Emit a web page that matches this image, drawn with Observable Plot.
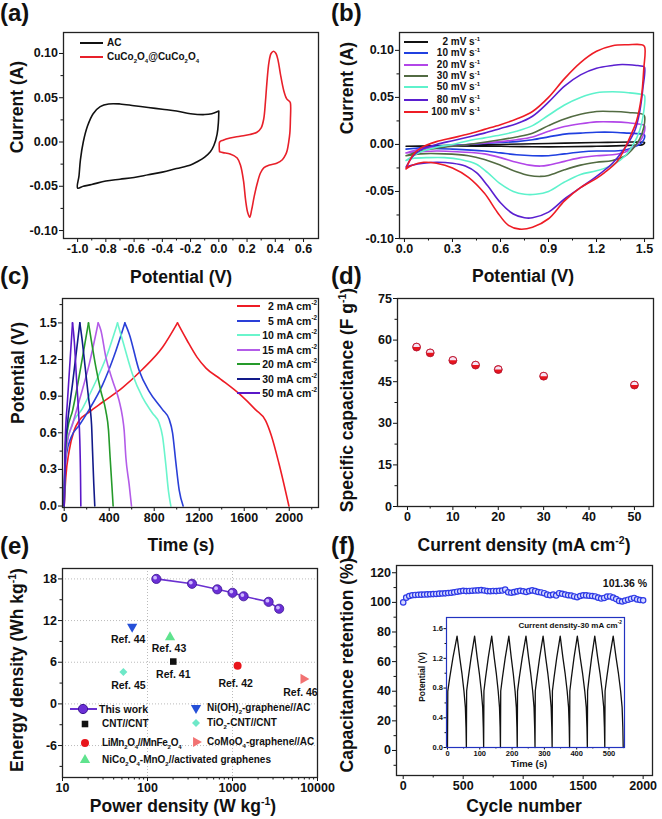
<!DOCTYPE html>
<html><head><meta charset="utf-8">
<script src="https://cdn.jsdelivr.net/npm/d3@7"></script>
<script src="https://cdn.jsdelivr.net/npm/@observablehq/plot@0.6"></script>
<style>
html,body{margin:0;padding:0;background:#fff;}
#fig{position:relative;width:662px;height:819px;overflow:hidden;font-family:"Liberation Sans",Arial,Helvetica,sans-serif;font-weight:bold;color:#111;background:#fff;}
.t{position:absolute;white-space:nowrap;line-height:1;}
sub,sup{font-size:0.6em;line-height:0;}
</style></head><body><div id="fig"></div><script>
// ================= DATA =================
// (a) CV comparison, [potential V, current A]
const acLoop = [[0.0,0.035],[-0.05,0.032],[-0.1,0.031],[-0.2,0.032],[-0.3,0.035],[-0.4,0.037],[-0.5,0.039],[-0.6,0.041],[-0.7,0.043],[-0.78,0.043],[-0.84,0.040],[-0.89,0.032],[-0.93,0.018],[-0.96,0.0],[-0.98,-0.02],[-0.99,-0.038],[-1.0,-0.052],[-0.96,-0.050],[-0.9,-0.048],[-0.8,-0.044],[-0.7,-0.042],[-0.6,-0.040],[-0.5,-0.037],[-0.4,-0.034],[-0.3,-0.030],[-0.2,-0.026],[-0.15,-0.022],[-0.1,-0.017],[-0.06,-0.011],[-0.035,-0.004],[-0.012,0.009],[-0.003,0.022],[0.0,0.035]];
const ccoLoop = [[0.005,-0.011],[0.003,-0.004],[0.006,0.0],[0.03,0.002],[0.08,0.0045],[0.15,0.0065],[0.22,0.0085],[0.27,0.011],[0.30,0.016],[0.318,0.026],[0.33,0.045],[0.34,0.066],[0.355,0.09],[0.37,0.100],[0.388,0.1026],[0.405,0.100],[0.42,0.092],[0.436,0.077],[0.46,0.058],[0.48,0.049],[0.50,0.046],[0.507,0.044],[0.507,0.025],[0.503,0.01],[0.495,0.0],[0.485,-0.009],[0.474,-0.014],[0.45,-0.020],[0.41,-0.024],[0.36,-0.026],[0.32,-0.029],[0.295,-0.035],[0.27,-0.048],[0.25,-0.062],[0.232,-0.077],[0.219,-0.085],[0.205,-0.080],[0.19,-0.066],[0.175,-0.044],[0.155,-0.027],[0.13,-0.018],[0.08,-0.0135],[0.03,-0.012],[0.005,-0.011]];
const aXTicks = [-1.0,-0.8,-0.6,-0.4,-0.2,0.0,0.2,0.4,0.6];
const aXMinor = [-0.9,-0.7,-0.5,-0.3,-0.1,0.1,0.3,0.5];
const currentTicks = [-0.10,-0.05,0.0,0.05,0.10];
const currentMinor = [-0.075,-0.025,0.025,0.075];

// (b) CV at scan rates, [potential V, current A]
const scanRates = ["2","10","20","30","50","80","100"];
const cv2 = [[0.01,-0.002],[0.3,-0.001],[0.6,0.0],[0.9,0.001],[1.2,0.002],[1.45,0.0025],[1.5,0.002],[1.49,0.0],[1.4,-0.001],[1.2,-0.002],[1.0,-0.0025],[0.8,-0.0025],[0.6,-0.002],[0.3,-0.0015],[0.01,-0.002]];
const cv10 = [[0.01,-0.005],[0.2,-0.002],[0.4,0.0],[0.6,0.002],[0.7,0.003],[0.8,0.005],[0.9,0.008],[1.0,0.011],[1.1,0.012],[1.2,0.013],[1.3,0.013],[1.4,0.012],[1.49,0.011],[1.5,0.010],[1.495,0.005],[1.47,0.0],[1.43,-0.003],[1.38,-0.006],[1.3,-0.007],[1.2,-0.007],[1.1,-0.008],[1.0,-0.010],[0.9,-0.012],[0.8,-0.012],[0.7,-0.011],[0.6,-0.009],[0.5,-0.007],[0.3,-0.005],[0.1,-0.004],[0.01,-0.005]];
const cv20 = [[0.01,-0.009],[0.1,-0.005],[0.2,-0.003],[0.4,0.0],[0.6,0.003],[0.7,0.005],[0.8,0.008],[0.9,0.014],[1.0,0.019],[1.1,0.022],[1.2,0.024],[1.3,0.024],[1.4,0.023],[1.49,0.021],[1.5,0.020],[1.495,0.011],[1.47,0.003],[1.43,-0.003],[1.38,-0.008],[1.3,-0.011],[1.2,-0.012],[1.1,-0.014],[1.0,-0.018],[0.9,-0.022],[0.85,-0.023],[0.78,-0.022],[0.7,-0.019],[0.6,-0.014],[0.5,-0.010],[0.35,-0.008],[0.2,-0.007],[0.01,-0.009]];
const cv30 = [[0.01,-0.012],[0.1,-0.007],[0.2,-0.004],[0.4,0.0],[0.6,0.005],[0.7,0.008],[0.8,0.012],[0.9,0.020],[1.0,0.027],[1.1,0.032],[1.2,0.035],[1.3,0.035],[1.4,0.034],[1.49,0.032],[1.5,0.030],[1.495,0.018],[1.47,0.006],[1.43,-0.004],[1.38,-0.012],[1.3,-0.017],[1.2,-0.019],[1.1,-0.022],[1.0,-0.027],[0.9,-0.033],[0.85,-0.034],[0.78,-0.033],[0.7,-0.029],[0.6,-0.022],[0.5,-0.016],[0.4,-0.012],[0.25,-0.010],[0.1,-0.010],[0.01,-0.012]];
const cv50 = [[0.01,-0.017],[0.1,-0.008],[0.2,-0.003],[0.3,0.0],[0.4,0.004],[0.5,0.007],[0.6,0.010],[0.7,0.014],[0.8,0.020],[0.9,0.031],[1.0,0.042],[1.1,0.050],[1.2,0.055],[1.3,0.056],[1.4,0.055],[1.49,0.053],[1.5,0.052],[1.495,0.035],[1.47,0.015],[1.43,0.0],[1.38,-0.012],[1.3,-0.022],[1.2,-0.028],[1.1,-0.032],[1.0,-0.040],[0.9,-0.050],[0.82,-0.053],[0.75,-0.053],[0.68,-0.050],[0.6,-0.042],[0.52,-0.030],[0.45,-0.021],[0.35,-0.016],[0.25,-0.014],[0.15,-0.014],[0.05,-0.015],[0.01,-0.017]];
const cv80 = [[0.01,-0.024],[0.05,-0.013],[0.1,-0.006],[0.2,0.0],[0.3,0.004],[0.4,0.008],[0.5,0.012],[0.6,0.017],[0.7,0.022],[0.8,0.030],[0.9,0.045],[1.0,0.062],[1.1,0.074],[1.2,0.081],[1.3,0.084],[1.36,0.085],[1.45,0.084],[1.49,0.083],[1.5,0.082],[1.49,0.06],[1.47,0.035],[1.44,0.015],[1.4,0.002],[1.35,-0.01],[1.3,-0.02],[1.2,-0.034],[1.1,-0.046],[1.0,-0.058],[0.9,-0.072],[0.8,-0.078],[0.75,-0.078],[0.68,-0.074],[0.6,-0.062],[0.52,-0.044],[0.45,-0.030],[0.38,-0.023],[0.3,-0.020],[0.2,-0.019],[0.12,-0.020],[0.05,-0.022],[0.01,-0.024]];
const cv100 = [[0.01,-0.026],[0.05,-0.012],[0.1,-0.004],[0.2,0.003],[0.3,0.007],[0.4,0.011],[0.5,0.016],[0.6,0.021],[0.7,0.027],[0.8,0.035],[0.9,0.050],[1.0,0.070],[1.1,0.087],[1.2,0.099],[1.3,0.105],[1.4,0.106],[1.48,0.106],[1.5,0.104],[1.495,0.08],[1.48,0.05],[1.45,0.025],[1.42,0.012],[1.38,-0.003],[1.33,-0.018],[1.25,-0.030],[1.2,-0.036],[1.1,-0.046],[1.0,-0.060],[0.9,-0.079],[0.8,-0.088],[0.72,-0.090],[0.65,-0.086],[0.58,-0.072],[0.5,-0.052],[0.4,-0.035],[0.3,-0.025],[0.2,-0.020],[0.12,-0.019],[0.05,-0.022],[0.01,-0.026]];
const bXTicks = [0.0,0.3,0.6,0.9,1.2,1.5];
const bXMinor = [0.15,0.45,0.75,1.05,1.35];

// (c) GCD curves, [time s, potential V]
const gcdCurrents = ["2","5","10","15","20","30","50"];
const gcd2 = [[0,0],[14,0.23],[44,0.45],[89,0.62],[133,0.70],[222,0.77],[340,0.85],[519,0.97],[696,1.12],[874,1.30],[1007,1.5],[1090,1.36],[1180,1.22],[1260,1.13],[1389,1.04],[1567,0.91],[1700,0.79],[1790,0.70],[1840,0.58],[1908,0.35],[1997,0]];
const gcd5 = [[0,0],[5,0.25],[20,0.42],[60,0.56],[133,0.66],[222,0.79],[340,0.99],[440,1.22],[539,1.5],[578,1.41],[666,1.11],[755,0.94],[874,0.79],[933,0.71],[963,0.60],[992,0.36],[1022,0.13],[1057,0]];
const gcd10 = [[0,0],[5,0.30],[20,0.48],[60,0.64],[163,0.80],[281,1.02],[370,1.21],[474,1.5],[518,1.36],[607,1.08],[696,0.89],[785,0.76],[844,0.68],[874,0.57],[903,0.34],[927,0.12],[948,0]];
const gcd15 = [[0,0],[9,0.34],[29,0.53],[74,0.67],[133,0.86],[222,1.16],[302,1.5],[326,1.44],[370,1.22],[429,1.03],[489,0.86],[518,0.73],[533,0.62],[548,0.40],[577,0.18],[598,0]];
const gcd20 = [[0,0],[9,0.40],[29,0.62],[74,0.78],[148,1.14],[216,1.5],[237,1.38],[281,1.14],[326,0.94],[370,0.78],[394,0.62],[408,0.40],[423,0.18],[435,0]];
const gcd30 = [[0,0],[9,0.45],[29,0.67],[74,1.0],[139,1.5],[157,1.38],[186,1.14],[216,0.89],[243,0.67],[252,0.45],[263,0.18],[272,0]];
const gcd50 = [[0,0],[9,0.53],[29,0.86],[74,1.5],[89,1.36],[109,1.05],[127,0.78],[139,0.53],[145,0.26],[148,0]];
const cXTicks = [0,400,800,1200,1600,2000];
const cXMinor = [200,600,1000,1400,1800,2200];
const potTicks = [0.0,0.3,0.6,0.9,1.2,1.5];
const potMinor = [0.15,0.45,0.75,1.05,1.35,1.65];

// (d) specific capacitance
const currentDensity = [2,5,10,15,20,30,50];
const specCap = [57.5,55.4,52.7,51.0,49.4,47.0,43.8];
const dXTicks = [0,10,20,30,40,50];
const dXMinor = [5,15,25,35,45];
const dYTicks = [0,15,30,45,60,75];
const dYMinor = [7.5,22.5,37.5,52.5,67.5];

// (e) Ragone plot
const thisWorkPower = [127,334,662,1000,1350,2660,3540];
const thisWorkEnergy = [18.0,17.3,16.5,16.0,15.5,14.7,13.7];
const refLabels = ["Ref. 41","Ref. 42","Ref. 43","Ref. 44","Ref. 45","Ref. 46"];
const refSystems = ["CNT//CNT","LiMn<sub>2</sub>O<sub>4</sub>//MnFe<sub>2</sub>O<sub>4</sub>","NiCo<sub>2</sub>O<sub>4</sub>-MnO<sub>2</sub>//activated graphenes","Ni(OH)<sub>2</sub>-graphene//AC","TiO<sub>2</sub>-CNT//CNT","CoMoO<sub>4</sub>-graphene//AC"];
const refPower = [201,1148,184,66,52,6840];
const refEnergy = [6.1,5.5,9.6,11.1,4.6,3.6];
const eXTicks = [10,100,1000,10000];
const eXMinor = [20,30,40,50,60,70,80,90,200,300,400,500,600,700,800,900,2000,3000,4000,5000,6000,7000,8000,9000];
const eYTicks = [-6,0,6,12,18];
const eYMinor = [-9,-3,3,9,15];

// (f) cycling stability
const cycles = [0,25,50,75,100,125,150,175,200,225,250,275,300,325,350,375,400,425,450,475,500,525,550,575,600,625,650,675,700,725,750,775,800,825,850,875,900,925,950,975,1000,1025,1050,1075,1100,1125,1150,1175,1200,1225,1250,1275,1300,1325,1350,1375,1400,1425,1450,1475,1500,1525,1550,1575,1600,1625,1650,1675,1700,1725,1750,1775,1800,1825,1850,1875,1900,1925,1950,1975,2000];
const retention = [100.0,103.2,104.3,104.8,105.0,105.1,105.2,105.3,105.4,105.5,105.6,105.7,105.9,106.0,106.1,106.3,106.5,106.8,107.2,107.5,107.8,107.6,107.7,107.9,108.0,108.1,108.3,108.0,107.6,107.5,107.7,107.6,107.8,108.0,108.6,106.8,106.5,106.9,107.4,107.8,107.5,107.0,107.6,108.1,107.6,107.0,106.7,106.2,105.2,104.8,105.3,104.6,106.2,105.8,105.3,104.8,104.6,104.0,103.5,104.3,104.8,104.7,104.5,104.3,104.0,103.2,102.6,103.0,103.9,104.0,103.2,102.2,101.0,100.6,101.2,101.8,102.4,103.0,102.0,101.6,101.36];
const fXTicks = [0,500,1000,1500,2000];
const fXMinor = [250,750,1250,1750];
const fYTicks = [0,20,40,60,80,100,120];
const fYMinor = [-10,10,30,50,70,90,110];
// inset: GCD cycles at 30 mA cm-2
const cycleStart = [0,58.5,112,164,216,271,324,378,433,487];
const cyclePeak = [29.7,84,137,190,243,296,349,402,456,513];
const cycleEnd = [58.5,112,164,216,271,324,378,433,487,544];
const chargeFrac = [0,0.034,0.236,0.572,1];
const chargeV = [0,0.76,0.94,1.21,1.5];
const dischargeFrac = [0,0.288,0.531,0.74,0.892,0.962,1];
const dischargeV = [1.5,1.21,0.99,0.76,0.54,0.27,0];
const insetXTicks = [0,100,200,300,400,500];
const insetXMinor = [50,150,250,350,450];
const insetYTicks = [0.0,0.4,0.8,1.2,1.6];
const insetYMinor = [0.2,0.6,1.0,1.4];

// ================= DRAWING =================
const fig = document.getElementById("fig");
const FONT = '"Liberation Sans", Arial, Helvetica, sans-serif';
const pts = arr => arr.map(([x, y]) => ({x, y}));
// split a GCD curve at its peak into charge and discharge branches (keeps the peak sharp)
function branches(arr) {
  let k = 0;
  arr.forEach((p, i) => { if (p[1] > arr[k][1]) k = i; });
  return [...arr.slice(0, k + 1).map(([x, y]) => ({x, y, b: 0})), ...arr.slice(k).map(([x, y]) => ({x, y, b: 1}))];
}

function axisMarks({xMajor, xMinor, yMajor, yMinor, xFmt, yFmt, size = 4, minor = 2.5, padX = 1.5, padY = 1.5}) {
  return [
    Plot.axisX(xMinor, {anchor: "bottom", tickSize: minor, tickFormat: () => "", label: null}),
    Plot.axisX(xMajor, {anchor: "bottom", tickSize: size, tickPadding: padX, tickFormat: xFmt, label: null}),
    Plot.axisY(yMinor, {anchor: "left", tickSize: minor, tickFormat: () => "", label: null}),
    Plot.axisY(yMajor, {anchor: "left", tickSize: size, tickPadding: padY, tickFormat: yFmt, label: null})
  ];
}

function makePlot({left, top, width, height, frame: [fl, fr, ft, fb], x, y, marks, fontSize = 12.5}) {
  const svg = Plot.plot({
    width, height,
    marginLeft: fl - left, marginRight: left + width - fr,
    marginTop: ft - top, marginBottom: top + height - fb,
    x: {...x, label: null}, y: {...y, label: null},
    style: {fontFamily: FONT, fontSize: fontSize + "px", fontWeight: "bold", color: "#111", background: "transparent", overflow: "visible"},
    marks
  });
  svg.style.position = "absolute";
  svg.style.left = left + "px";
  svg.style.top = top + "px";
  svg.style.maxWidth = "none";
  fig.appendChild(svg);
  return svg;
}

function text(html, x, y, size, {rotate = false, anchor = "middle"} = {}) {
  const d = document.createElement("div");
  d.className = "t";
  d.innerHTML = html;
  d.style.left = x + "px";
  d.style.top = y + "px";
  d.style.fontSize = size + "px";
  const tx = anchor === "middle" ? "-50%" : anchor === "end" ? "-100%" : "0";
  d.style.transform = `translate(${tx},-50%)` + (rotate ? " rotate(-90deg)" : "");
  fig.appendChild(d);
  return d;
}
function swatch(x1, x2, y, color, w = 1.8) {
  const d = document.createElement("div");
  Object.assign(d.style, {position: "absolute", left: x1 + "px", top: (y - w / 2) + "px", width: (x2 - x1) + "px", height: w + "px", background: color});
  fig.appendChild(d);
}
function symbolAt(x, y, type, r, fill, rotate = 0, stroke = "none") {
  const ns = "http://www.w3.org/2000/svg";
  const s = document.createElementNS(ns, "svg");
  s.setAttribute("width", 20); s.setAttribute("height", 20);
  Object.assign(s.style, {position: "absolute", left: (x - 10) + "px", top: (y - 10) + "px", overflow: "visible"});
  const p = document.createElementNS(ns, "path");
  p.setAttribute("d", d3.symbol(type, r * r * Math.PI)());
  p.setAttribute("transform", `translate(10,10) rotate(${rotate})`);
  p.setAttribute("fill", fill); p.setAttribute("stroke", stroke);
  s.appendChild(p);
  fig.appendChild(s);
}
// upper half-disc symbol for glossy markers
const halfTop = {draw(ctx, size) { const r = Math.sqrt(size / Math.PI); ctx.moveTo(r, 0); ctx.arc(0, 0, r, 0, Math.PI, true); ctx.closePath(); }};

const FRAME = {stroke: "#222", strokeWidth: 1.3};

// ---------- (a) ----------
makePlot({left: 0, top: 0, width: 331, height: 270, frame: [63, 318, 32, 238],
  x: {domain: [-1.1, 0.706]}, y: {domain: [-0.109, 0.1237]},
  marks: [
    Plot.line(pts(acLoop), {x: "x", y: "y", stroke: "#111", strokeWidth: 1.6, curve: "catmull-rom"}),
    Plot.line(pts(ccoLoop), {x: "x", y: "y", stroke: "#e8202a", strokeWidth: 1.6, curve: "catmull-rom"}),
    ...axisMarks({xMajor: aXTicks, xMinor: aXMinor, yMajor: currentTicks, yMinor: currentMinor, xFmt: d => d.toFixed(1), yFmt: d => d.toFixed(2)}),
    Plot.frame(FRAME)
  ]});
swatch(80, 103, 43, "#111");
text("AC", 107, 43, 10, {anchor: "start"});
swatch(80, 103, 57, "#e8202a");
text("CuCo<sub>2</sub>O<sub>4</sub>@CuCo<sub>2</sub>O<sub>4</sub>", 107, 57, 10, {anchor: "start"});
text("Current (A)", 18, 107, 17.5, {rotate: true});
text("Potential (V)", 181, 278, 17.5);
text("(a)", 0, 13, 24, {anchor: "start"});

// ---------- (b) ----------
const cvData = [cv2, cv10, cv20, cv30, cv50, cv80, cv100];
const cvColors = ["#111111", "#2040e0", "#b246e8", "#526b42", "#5ef2cc", "#5a1fd0", "#ee1c25"];
makePlot({left: 331, top: 0, width: 331, height: 270, frame: [399, 653, 32, 238],
  x: {domain: [-0.031, 1.556]}, y: {domain: [-0.10, 0.119]},
  marks: [
    ...cvData.map((d, i) => Plot.line(pts(d), {x: "x", y: "y", stroke: cvColors[i], strokeWidth: 1.6, curve: "catmull-rom"})),
    ...axisMarks({xMajor: bXTicks, xMinor: bXMinor, yMajor: currentTicks, yMinor: currentMinor, xFmt: d => d.toFixed(1), yFmt: d => d.toFixed(2)}),
    Plot.frame(FRAME)
  ]});
const bRows = [42, 53.3, 65, 76, 87.3, 100, 111.7];
scanRates.forEach((s, i) => {
  swatch(404, 428, bRows[i], cvColors[i]);
  text(`${s} mV s<sup>-1</sup>`, 480, bRows[i], 10, {anchor: "end"});
});
text("Current (A)", 348, 88, 17.5, {rotate: true});
text("Potential (V)", 523, 277, 17.5);
text("(b)", 331, 13, 24, {anchor: "start"});

// ---------- (c) ----------
const gcdData = [gcd2, gcd5, gcd10, gcd15, gcd20, gcd30, gcd50];
const gcdColors = ["#ee1c25", "#2a3fd8", "#6af5cc", "#b35ce8", "#259a2a", "#121a8a", "#5a18c8"];
makePlot({left: 0, top: 270, width: 331, height: 270, frame: [62, 318, 298, 507],
  x: {domain: [-15, 2260]}, y: {domain: [-0.012, 1.70]},
  marks: [
    ...gcdData.map((d, i) => Plot.line(branches(d), {x: "x", y: "y", z: "b", stroke: cvColors && gcdColors[i], strokeWidth: 1.6, curve: "monotone-x"})),
    ...axisMarks({xMajor: cXTicks, xMinor: cXMinor, yMajor: potTicks, yMinor: potMinor, xFmt: d => String(d), yFmt: d => d.toFixed(1)}),
    Plot.frame(FRAME)
  ]});
const cRows = [305.7, 320.7, 335, 350, 364.3, 379, 393.3];
gcdCurrents.forEach((c, i) => {
  swatch(237, 260, cRows[i], gcdColors[i]);
  text(`${c} mA cm<sup>-2</sup>`, 317, cRows[i], 10.5, {anchor: "end"});
});
text("Potential (V)", 19, 373, 17.5, {rotate: true});
text("Time (s)", 181, 546, 17.5);
text("(c)", 0, 276, 24, {anchor: "start"});

// ---------- (d) ----------
const dData = currentDensity.map((x, i) => ({x, y: specCap[i]}));
makePlot({left: 331, top: 270, width: 331, height: 270, frame: [397, 653, 298, 506],
  x: {domain: [-2.2, 54.2]}, y: {domain: [0, 75]},
  marks: [
    Plot.dot(dData, {x: "x", y: "y", r: 3.9, fill: "#e8151d", stroke: "#a50d15", strokeWidth: 0.6}),
    Plot.dot(dData, {x: "x", y: "y", r: 3.3, symbol: halfTop, fill: "#f6e4f4"}),
    Plot.dot(dData, {x: "x", y: "y", r: 3.9, fill: "none", stroke: "#c0183c", strokeWidth: 0.7}),
    ...axisMarks({xMajor: dXTicks, xMinor: dXMinor, yMajor: dYTicks, yMinor: dYMinor, xFmt: d => String(d), yFmt: d => String(d)}),
    Plot.frame(FRAME)
  ]});
text("Specific capacitance (F g<sup>-1</sup>)", 348, 400, 17.5, {rotate: true});
text("Current density (mA cm<sup>-2</sup>)", 524, 546, 17.5);
text("(d)", 331, 276, 24, {anchor: "start"});

// ---------- (e) ----------
const twData = thisWorkPower.map((p, i) => ({x: p, y: thisWorkEnergy[i]}));
const refStyle = [
  {symbol: d3.symbolSquare, fill: "#111", rotate: 0, r: 3.7, dx: 0, dy: 13},
  {symbol: d3.symbolCircle, fill: "#e8151b", rotate: 0, r: 4.0, dx: -2, dy: 18},
  {symbol: d3.symbolTriangle, fill: "#5fe38e", rotate: 0, r: 3.8, dx: -1, dy: 11},
  {symbol: d3.symbolTriangle, fill: "#2550d8", rotate: 180, r: 3.8, dx: -4, dy: 13},
  {symbol: d3.symbolDiamond2, fill: "#6ee8c8", rotate: 0, r: 3.6, dx: 5, dy: 14},
  {symbol: d3.symbolTriangle, fill: "#f27272", rotate: 90, r: 3.8, dx: -3, dy: 14}
];
makePlot({left: 0, top: 540, width: 331, height: 279, frame: [62, 317, 568, 777],
  x: {type: "log", domain: [10, 10000]}, y: {domain: [-10.6, 19.5]},
  marks: [
    Plot.ruleX([100, 1000], {stroke: "#bbb", strokeDasharray: "1,2"}),
    Plot.ruleY(eYTicks, {stroke: "#bbb", strokeDasharray: "1,2"}),
    Plot.line(twData, {x: "x", y: "y", stroke: "#6a30d0", strokeWidth: 1.6}),
    Plot.dot(twData, {x: "x", y: "y", r: 4.6, fill: "#6b2fd6", stroke: "#3b1493", strokeWidth: 0.8}),
    Plot.dot(twData, {x: "x", y: "y", r: 1.9, fill: "#cdb8ff", dx: -1.2, dy: -1.2}),
    ...refLabels.map((lab, i) => Plot.dot([i], {x: j => refPower[j], y: j => refEnergy[j], symbol: refStyle[i].symbol, r: refStyle[i].r, fill: refStyle[i].fill, rotate: refStyle[i].rotate})),
    ...refLabels.map((lab, i) => Plot.text([i], {x: j => refPower[j], y: j => refEnergy[j], text: j => refLabels[j], dx: refStyle[i].dx, dy: refStyle[i].dy, fontSize: 10.5, fontWeight: "bold", fill: "#111"})),
    ...axisMarks({xMajor: eXTicks, xMinor: eXMinor, yMajor: eYTicks, yMinor: eYMinor, xFmt: d => String(d), yFmt: d => String(d)}),
    Plot.frame(FRAME)
  ]});
// legend (e)
swatch(70, 97, 709, "#6a30d0", 1.6);
symbolAt(83, 709, d3.symbolCircle, 4.6, "#6b2fd6", 0, "#3b1493");
text("This work", 99, 709, 10.5, {anchor: "start"});
const legRows1 = [[0, 724], [1, 743], [2, 760]];
legRows1.forEach(([i, yy]) => {
  symbolAt(85, yy, refStyle[i].symbol, refStyle[i].r, refStyle[i].fill, refStyle[i].rotate);
  const t = text(refSystems[i], 102, yy, 10, {anchor: "start"});
  if (i === 1) t.style.letterSpacing = "-0.3px";
});
const legRows2 = [[3, 708], [4, 723], [5, 742]];
legRows2.forEach(([i, yy]) => {
  symbolAt(196, yy, refStyle[i].symbol, refStyle[i].r, refStyle[i].fill, refStyle[i].rotate);
  text(refSystems[i], 207, yy, 10, {anchor: "start"});
});
text("Energy density (Wh kg<sup>-1</sup>)", 18, 670, 17.5, {rotate: true});
text("Power density (W kg<sup>-1</sup>)", 183, 807, 17.5);
text("(e)", 0, 546, 24, {anchor: "start"});

// ---------- (f) ----------
const fData = cycles.map((c, i) => ({x: c, y: retention[i]}));
makePlot({left: 331, top: 540, width: 331, height: 279, frame: [396, 652, 565, 775],
  x: {domain: [-56, 2078]}, y: {domain: [-16.9, 124.9]},
  marks: [
    Plot.dot(fData, {x: "x", y: "y", r: 2.7, fill: "#d4d8ff", stroke: "#2e3ae6", strokeWidth: 1.2}),
    ...axisMarks({xMajor: fXTicks, xMinor: fXMinor, yMajor: fYTicks, yMinor: fYMinor, xFmt: d => String(d), yFmt: d => String(d)}),
    Plot.frame(FRAME)
  ]});
text("101.36 %", 625, 583, 10.5);
text("Capacitance retention (%)", 348, 665, 17.5, {rotate: true});
text("Cycle number", 524, 807, 17.5);
text("(f)", 331, 546, 24, {anchor: "start"});

// inset
const insetPts = [];
cycleStart.forEach((s, i) => {
  const p = cyclePeak[i], e = cycleEnd[i];
  chargeFrac.forEach((f, j) => insetPts.push({x: s + f * (p - s), y: chargeV[j]}));
  dischargeFrac.forEach((f, j) => insetPts.push({x: p + f * (e - p), y: dischargeV[j]}));
});
makePlot({left: 400, top: 600, width: 240, height: 180, frame: [446, 624, 617, 747],
  x: {domain: [-3, 548]}, y: {domain: [0, 1.75]}, fontSize: 7.5,
  marks: [
    Plot.frame({fill: "white"}),
    Plot.line(insetPts, {x: "x", y: "y", stroke: "#111", strokeWidth: 1.3}),
    ...axisMarks({xMajor: insetXTicks, xMinor: insetXMinor, yMajor: insetYTicks, yMinor: insetYMinor, xFmt: d => String(d), yFmt: d => d.toFixed(1), size: 2.5, minor: 1.5, padX: 1, padY: 1}),
    Plot.frame({stroke: "#2233c0", strokeWidth: 1.2})
  ]});
text("Current density-30 mA cm<sup>-2</sup>", 622, 626, 8, {anchor: "end"});
text("Potential (V)", 422, 677, 8.5, {rotate: true});
text("Time (s)", 529, 764, 9.5);
</script></body></html>
